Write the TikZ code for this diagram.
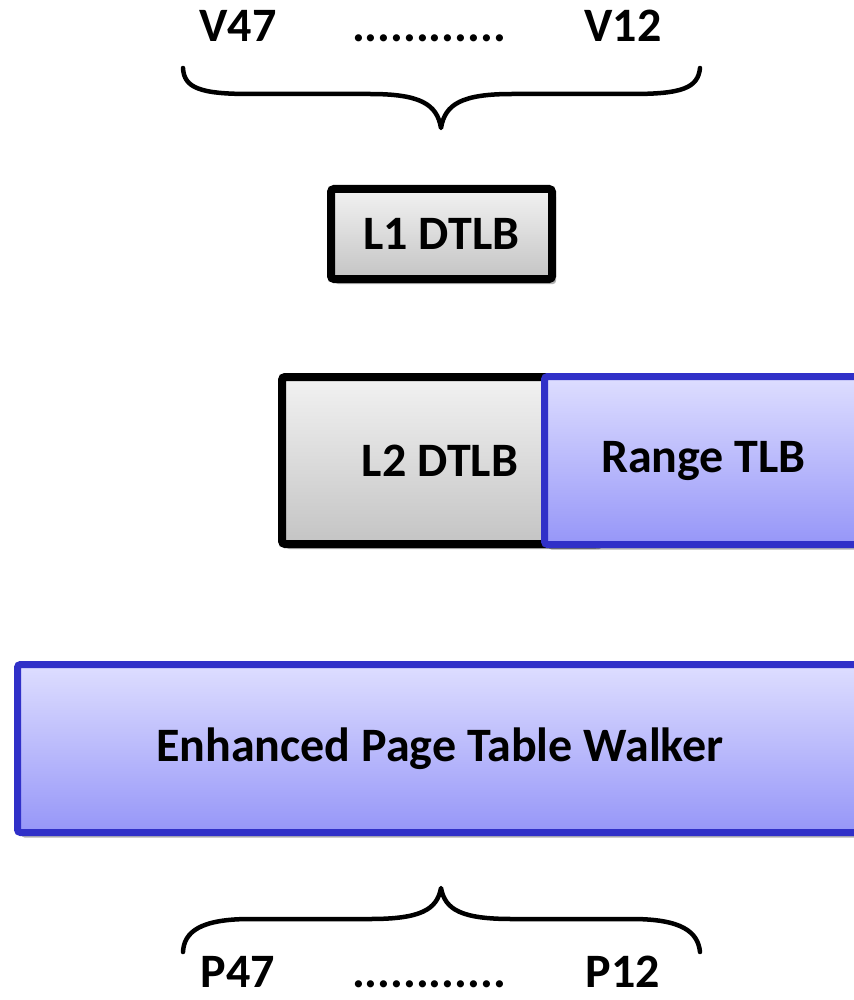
\documentclass[tikz,border=0pt]{standalone}
\usepackage{fontspec}
\setmainfont{Carlito}
\usetikzlibrary{shadows}
\definecolor{boxblue}{RGB}{48,48,200}
\definecolor{bluetop}{RGB}{222,222,255}
\definecolor{bluebot}{RGB}{150,150,248}
\definecolor{graytop}{RGB}{242,242,242}
\definecolor{graybot}{RGB}{196,196,196}
\begin{document}
\begin{tikzpicture}[x=1pt,y=-1pt,
  lbl/.style={font=\fontsize{48}{54}\selectfont\bfseries, text=black},
  bits/.style={lbl, anchor=base, inner sep=0pt},
  softshadow/.style={drop shadow={shadow xshift=4pt, shadow yshift=-5pt, opacity=0.3, fill=black}},
  graybox/.style={draw=black, line width=8pt, rounded corners=3pt,
    top color=graytop, bottom color=graybot, softshadow, lbl},
  bluebox/.style={draw=boxblue, line width=7pt, rounded corners=3pt,
    top color=bluetop, bottom color=bluebot, softshadow, lbl},
  brace/.style={draw=black, line width=4.5pt, line cap=round, line join=round}]
\useasboundingbox (0,0) rectangle (853,1000);

% virtual address bits
\node[bits] (v47) at (238,42) {V47};
\node[bits] (vdots) at (429,42) {............};
\node[bits] (v12) at (623,42) {V12};

% top brace
\coordinate (tbl) at (183,68);
\coordinate (tbr) at (700,68);
\coordinate (tbt) at (441,128);
\draw[brace] (tbl) .. controls (184,88) and (200,94) .. (250,94)
  -- (370,94) .. controls (420,94) and (437,104) .. (tbt)
  .. controls (445,104) and (462,94) .. (512,94)
  -- (632,94) .. controls (682,94) and (698,88) .. (tbr);

% TLB hierarchy
\node[graybox, minimum width=221pt, minimum height=90pt] (l1) at (441.5,234) {L1 DTLB};
\node[graybox, minimum width=316pt, minimum height=167pt] (l2) at (440,460.5) {L2 DTLB};
\node[bluebox, minimum width=318pt, minimum height=168pt] (rtlb) at (703.5,460.5) {Range TLB};
\node[bluebox, minimum width=845pt, minimum height=168pt] (eptw) at (440,748.5) {Enhanced Page Table Walker};

% bottom brace
\coordinate (bbl) at (183,952);
\coordinate (bbr) at (700,952);
\coordinate (bbt) at (441,888);
\draw[brace] (bbl) .. controls (184,932) and (200,919) .. (250,919)
  -- (370,919) .. controls (420,919) and (437,910) .. (bbt)
  .. controls (445,910) and (462,919) .. (512,919)
  -- (632,919) .. controls (682,919) and (698,932) .. (bbr);

% physical address bits
\node[bits] (p47) at (238,987) {P47};
\node[bits] (pdots) at (429,987) {............};
\node[bits] (p12) at (623,987) {P12};
\end{tikzpicture}
\end{document}
